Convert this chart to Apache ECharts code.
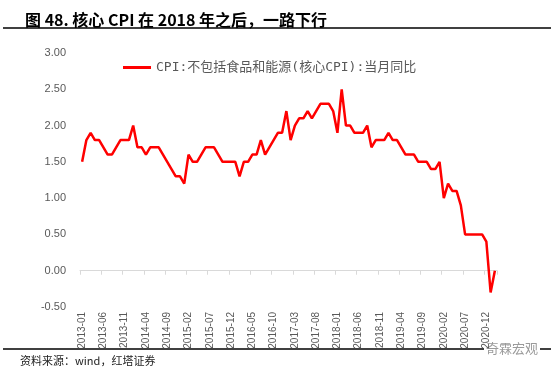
<!DOCTYPE html>
<html>
<head>
<meta charset="utf-8">
<script src="https://cdn.jsdelivr.net/npm/echarts@6/dist/echarts.min.js"></script>
<style>
  html, body { margin: 0; padding: 0; background: #fff; }
  #chart { width: 554px; height: 377px; }
</style>
</head>
<body>
<div id="chart"></div>
<script>
// 核心CPI当月同比, 2013-01 ~ 2021-02
const startYear = 2013;
const endYear = 2021;
const endMonth = 2;

const coreCpi = [
  1.5, 1.8, 1.9, 1.8, 1.8, 1.7, 1.6, 1.6, 1.7, 1.8, 1.8, 1.8, // 2013
  2.0, 1.7, 1.7, 1.6, 1.7, 1.7, 1.7, 1.6, 1.5, 1.4, 1.3, 1.3, // 2014
  1.2, 1.6, 1.5, 1.5, 1.6, 1.7, 1.7, 1.7, 1.6, 1.5, 1.5, 1.5, // 2015
  1.5, 1.3, 1.5, 1.5, 1.6, 1.6, 1.8, 1.6, 1.7, 1.8, 1.9, 1.9, // 2016
  2.2, 1.8, 2.0, 2.1, 2.1, 2.2, 2.1, 2.2, 2.3, 2.3, 2.3, 2.2, // 2017
  1.9, 2.5, 2.0, 2.0, 1.9, 1.9, 1.9, 2.0, 1.7, 1.8, 1.8, 1.8, // 2018
  1.9, 1.8, 1.8, 1.7, 1.6, 1.6, 1.6, 1.5, 1.5, 1.5, 1.4, 1.4, // 2019
  1.5, 1.0, 1.2, 1.1, 1.1, 0.9, 0.5, 0.5, 0.5, 0.5, 0.5, 0.4, // 2020
  -0.3, 0.0                                                   // 2021
];

const yMin = -0.5;
const yMax = 3.0;
const yStep = 0.5;

const seriesName = 'CPI:不包括食品和能源(核心CPI):当月同比';
const titleText = '图 48. 核心 CPI 在 2018 年之后，一路下行';
const sourceText = '资料来源：wind，红塔证券';
const watermark = '奇霖宏观';

const months = [];
for (let y = startYear; y <= endYear; y++) {
  for (let m = 1; m <= 12; m++) {
    if (y === endYear && m > endMonth) break;
    months.push(y + '-' + (m < 10 ? '0' + m : m));
  }
}

const chart = echarts.init(document.getElementById('chart'));

const labelColor = '#595959';

chart.setOption({
  animation: false,
  backgroundColor: '#fff',
  title: {
    text: titleText,
    left: 20,
    top: 7,
    textStyle: {
      fontFamily: 'Noto Sans CJK SC',
      fontSize: 16,
      fontWeight: 'bold',
      color: '#000'
    }
  },
  legend: {
    left: 118,
    top: 56,
    icon: 'rect',
    itemWidth: 28,
    itemHeight: 3,
    textStyle: {
      fontFamily: 'DejaVu Sans Mono, Noto Sans CJK SC',
      fontSize: 13,
      color: labelColor
    },
    data: [seriesName]
  },
  grid: {
    left: 80,
    right: 57,
    top: 53,
    bottom: 70
  },
  xAxis: {
    type: 'category',
    data: months,
    boundaryGap: true,
    axisLine: { onZero: true, lineStyle: { color: '#d9d9d9', width: 1 } },
    axisTick: { show: true, interval: 4, length: 4, lineStyle: { color: '#d9d9d9' } },
    axisLabel: {
      interval: 4,
      rotate: 90,
      margin: 5,
      color: labelColor,
      fontFamily: 'Liberation Sans',
      fontSize: 10
    }
  },
  yAxis: {
    type: 'value',
    min: yMin,
    max: yMax,
    interval: yStep,
    axisLine: { show: false },
    axisTick: { show: false },
    splitLine: { show: false },
    axisLabel: {
      margin: 14,
      color: labelColor,
      fontFamily: 'Liberation Sans',
      fontSize: 11,
      formatter: v => v.toFixed(2)
    }
  },
  series: [
    {
      name: seriesName,
      type: 'line',
      data: coreCpi,
      symbol: 'none',
      itemStyle: { color: '#ff0000' },
      lineStyle: { color: '#ff0000', width: 2.5 }
    }
  ],
  graphic: [
    {
      type: 'line',
      shape: { x1: 3, y1: 28, x2: 551, y2: 28 },
      style: { stroke: '#000', lineWidth: 1.5 }
    },
    {
      type: 'line',
      shape: { x1: 3, y1: 349, x2: 551, y2: 349 },
      style: { stroke: '#000', lineWidth: 1.5 }
    },
    {
      type: 'text',
      left: 20,
      top: 355,
      style: {
        text: sourceText,
        font: '11px "Noto Sans CJK SC"',
        fill: '#222'
      }
    },
    {
      type: 'text',
      left: 484,
      top: 342,
      style: {
        text: watermark,
        font: '13px "Noto Sans CJK SC"',
        fill: '#9a9a9a',
        backgroundColor: '#fff',
        padding: [0, 2]
      }
    }
  ]
});

window.addEventListener('resize', () => chart.resize());
</script>
</body>
</html>
